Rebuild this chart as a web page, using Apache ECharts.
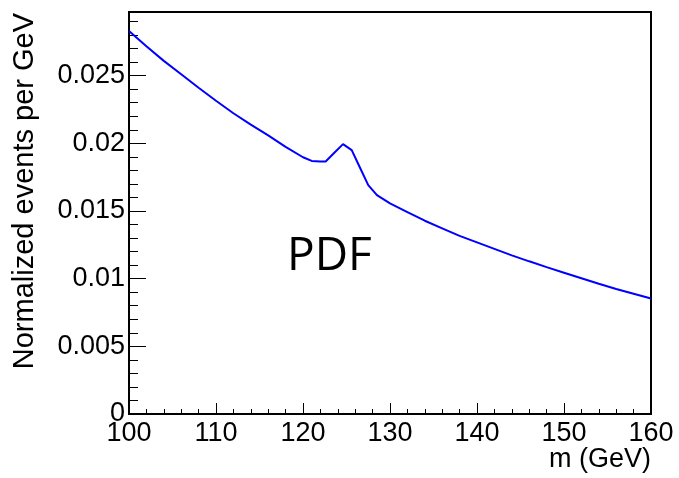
<!DOCTYPE html>
<html>
<head>
<meta charset="utf-8">
<script src="https://cdn.jsdelivr.net/npm/echarts@6/dist/echarts.min.js"></script>
<style>html,body{margin:0;padding:0;background:#fff;}#c{width:679px;height:478px;}</style>
</head>
<body>
<div id="c"></div>
<script>
const massGeV = [100,102,104,106,108,110,112,114,116,118,120,121,122,122.6,123.6,124.6,125.6,126.5,127.5,128.5,130,132,134,136,138,140,142,144,146,148,150,152,154,156,158,160];
const pdfValues = [0.0283,0.02717,0.02609,0.02510,0.02410,0.02314,0.02222,0.02138,0.02058,0.01974,0.01897,0.01870,0.01866,0.01866,0.01930,0.01994,0.01950,0.01827,0.01691,0.01617,0.01556,0.01492,0.01428,0.01372,0.01316,0.01268,0.01220,0.01172,0.01128,0.01085,0.01044,0.01003,0.00962,0.00924,0.00889,0.00853];
const xTickLabels = ['100','110','120','130','140','150','160'];
const yTickLabels = ['0','0.005','0.01','0.015','0.02','0.025'];
const xTitle = 'm (GeV)';
const yTitle = 'Normalized events per GeV';
const annotation = 'PDF';

const font = '"Liberation Sans", Arial, Helvetica, sans-serif';
const chart = echarts.init(document.getElementById('c'));
chart.setOption({
  animation: false,
  grid: {left: 129, right: 28, top: 12, bottom: 64, show: true, borderColor: '#000', borderWidth: 2, backgroundColor: 'transparent'},
  xAxis: {
    type: 'value', min: 100, max: 160, interval: 10,
    axisLine: {lineStyle: {color: '#000', width: 2}},
    axisTick: {inside: true, length: 11, lineStyle: {color: '#000', width: 1}},
    minorTick: {show: true, splitNumber: 5, length: 5, lineStyle: {color: '#000', width: 1}},
    splitLine: {show: false},
    axisLabel: {color: '#000', fontFamily: font, fontSize: 27, margin: 6,
      formatter: function (v) { const s = String(Math.round(v)); return xTickLabels.indexOf(s) >= 0 ? s : ''; }}
  },
  yAxis: {
    type: 'value', min: 0, max: 0.0297, interval: 0.005,
    axisLine: {lineStyle: {color: '#000', width: 2}},
    axisTick: {inside: true, length: 17, lineStyle: {color: '#000', width: 1}},
    minorTick: {show: true, splitNumber: 5, length: 9, lineStyle: {color: '#000', width: 1}},
    splitLine: {show: false},
    axisLabel: {color: '#000', fontFamily: font, fontSize: 27, margin: 4, showMaxLabel: false,
      formatter: function (v) { const k = Math.round(v / 0.005); if (Math.abs(v - k * 0.005) > 1e-7) return ''; return yTickLabels[k] || ''; }}
  },
  series: [{
    type: 'line', showSymbol: false, symbol: 'none',
    data: massGeV.map((m, i) => [m, pdfValues[i]]),
    lineStyle: {color: '#0000ff', width: 2}
  }],
  graphic: [
    {type: 'text', x: 651, y: 460, style: {text: xTitle, fontFamily: font, fontSize: 27, fill: '#000', align: 'right', verticalAlign: 'middle'}},
    {type: 'text', x: 25, y: 13, rotation: Math.PI / 2, style: {text: yTitle, fontFamily: font, fontSize: 29, fill: '#000', align: 'right', verticalAlign: 'middle'}},
    {type: 'text', x: 287, y: 257, style: {text: annotation, fontFamily: '"Open Sans", sans-serif', fontSize: 46, fill: '#000', align: 'left', verticalAlign: 'middle'}}
  ]
});
</script>
</body>
</html>
